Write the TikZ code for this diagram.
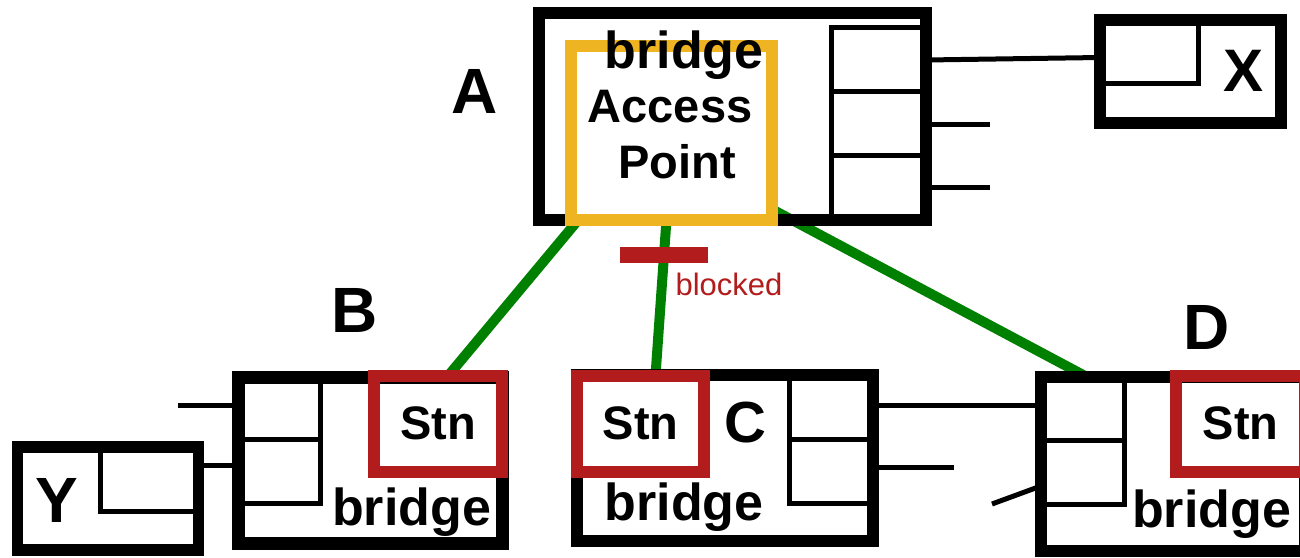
\documentclass[tikz,border=0pt]{standalone}
\usepackage{fontspec}
\setmainfont{Liberation Sans}
\usetikzlibrary{backgrounds,calc}
\definecolor{apgold}{RGB}{238,180,34}
\definecolor{stnred}{RGB}{178,28,28}
\definecolor{linkgreen}{RGB}{0,128,0}

\tikzset{
  box/.style={draw=black, line width=12pt, rectangle, inner sep=0pt, outer sep=0pt},
  apbox/.style={draw=apgold, line width=12pt, rectangle, inner sep=0pt, outer sep=0pt},
  stnbox/.style={draw=stnred, line width=12pt, rectangle, inner sep=0pt, outer sep=0pt,
    font=\fontsize{47}{47}\selectfont\bfseries},
  port/.style={draw=black, line width=5pt, rectangle, inner sep=0pt, outer sep=0pt},
  wire/.style={draw=black, line width=5pt},
  link/.style={draw=linkgreen, line width=10pt},
  devname/.style={font=\fontsize{64}{64}\selectfont\bfseries, inner sep=0pt},
  brlabel/.style={font=\fontsize{52}{52}\selectfont\bfseries, inner sep=0pt, anchor=base},
  aplabel/.style={font=\fontsize{47}{47}\selectfont\bfseries, inner sep=0pt, anchor=base},
}

\begin{document}
\begin{tikzpicture}[x=1pt, y=-1pt]
\useasboundingbox (0,0) rectangle (1300,557);
\clip (0,0) rectangle (1300,557);

% ---- bridge A with its access point
\node[box, minimum width=387.5pt, minimum height=207pt] (A) at (732.25,116) {};
\node[port, minimum width=95pt, minimum height=64pt] (Ap1) at (878.5,59.5) {};
\node[port, minimum width=95pt, minimum height=64pt] (Ap2) at (878.5,123.5) {};
\node[port, minimum width=95pt, minimum height=64pt] (Ap3) at (878.5,187.5) {};
\node[apbox, minimum width=201pt, minimum height=173.5pt] (AP) at (671,132.75) {};
\node[brlabel] (Abr) at (684,68) {bridge};
\node[aplabel] (APt1) at (670,122) {Access};
\node[aplabel] (APt2) at (677,178) {Point};
\node[devname] (Aname) at (475,91) {A};

% ---- host X
\node[box, minimum width=181pt, minimum height=102.5pt] (X) at (1190.5,71.25) {};
\node[port, minimum width=98pt, minimum height=63pt] (Xp) at (1149,51.5) {};
\node[devname, font=\fontsize{60}{60}\selectfont\bfseries] (Xname) at (1243,71) {X};

% ---- host Y
\node[box, line width=11.5pt, minimum width=181pt, minimum height=103pt] (Y) at (108,498.5) {};
\node[port, minimum width=98.5pt, minimum height=64pt] (Yp) at (149.25,479) {};
\node[devname] (Yname) at (57,500) {Y};

% ---- bridge B
\node[box, line width=13pt, minimum width=263.5pt, minimum height=166.5pt] (B) at (370.25,460.25) {};
\node[port, minimum width=82pt, minimum height=62pt] (Bp1) at (279.5,408) {};
\node[port, minimum width=82pt, minimum height=64.5pt] (Bp2) at (279.5,471.25) {};
\node[stnbox, minimum width=128pt, minimum height=96pt] (SB) at (438,423.5) {Stn};
\node[brlabel] (Bbr) at (411.5,525) {bridge};
\node[devname] (Bname) at (354.5,310.5) {B};

% ---- bridge C
\node[box, minimum width=296pt, minimum height=166pt] (C) at (725,458) {};
\node[port, minimum width=83.5pt, minimum height=64.5pt] (Cp1) at (831.25,407.25) {};
\node[port, minimum width=83.5pt, minimum height=64pt] (Cp2) at (831.25,471.5) {};
\node[stnbox, minimum width=127pt, minimum height=96pt] (SC) at (640.5,423.5) {Stn};
\node[brlabel] (Cbr) at (684,520) {bridge};
\node[devname, font=\fontsize{58}{58}\selectfont\bfseries] (Cname) at (745,423) {C};

% ---- bridge D
\node[box, minimum width=264pt, minimum height=174pt] (D) at (1173,464) {};
\node[port, minimum width=83.5pt, minimum height=63pt] (Dp1) at (1082.75,408.5) {};
\node[port, minimum width=83.5pt, minimum height=64pt] (Dp2) at (1082.75,472) {};
\node[stnbox, minimum width=129pt, minimum height=96pt] (SD) at (1240.5,423.5) {Stn};
\node[brlabel] (Dbr) at (1211.5,527) {bridge};
\node[devname] (Dname) at (1207,327) {D};

% ---- blocked marker on the A--C link
\node[fill=stnred, rectangle, inner sep=0pt, minimum width=88pt, minimum height=16pt] (blk) at (664,255) {};
\node[text=stnred, font=\fontsize{31}{31}\selectfont, inner sep=0pt, anchor=base] (blkt) at (729,295) {blocked};

% ---- wired segments
\coordinate (aw2) at (990,124);
\coordinate (aw3) at (990,187);
\coordinate (bw1) at (178,405.5);
\coordinate (cw2) at (954,467);
\coordinate (dw2) at (992,504);
\draw[wire] ([yshift=56pt]A.east) -- ([yshift=13.75pt]X.west);
\draw[wire] (A.east |- aw2) -- (aw2);
\draw[wire] (A.east |- aw3) -- (aw3);
\draw[wire] (bw1) -- (B.west |- bw1);
\draw[wire] ([yshift=33pt]Y.east) -- ([yshift=33pt]Y.east -| B.west);
\draw[wire] ([yshift=52.5pt]C.east) -- ([yshift=52.5pt]C.east -| D.west);
\draw[wire] (C.east |- cw2) -- (cw2);
\draw[wire] (dw2) -- ([yshift=-22pt]D.west);

% ---- wireless links, beneath the boxes
\begin{pgfonlayer}{background}
\draw[link] ([xshift=-92.4pt]AP.south) -- ([xshift=10.4pt]SB.north);
\draw[link] ([xshift=-4.5pt]AP.south) -- ([xshift=15pt]SC.north);
\draw[link] ([yshift=-76.25pt]AP.east) -- ([xshift=-86pt]D.north);
\end{pgfonlayer}
\end{tikzpicture}
\end{document}
